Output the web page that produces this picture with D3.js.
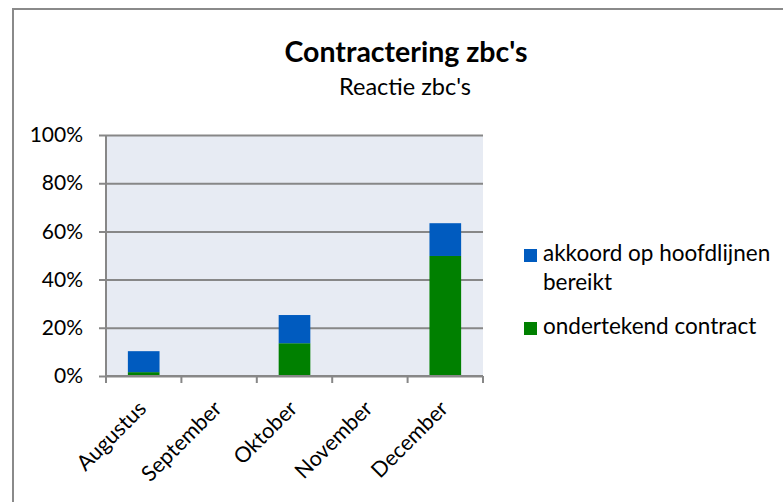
<!DOCTYPE html>
<html lang="nl">
<head>
    <meta charset="UTF-8">
    <title>Contractering zbc's</title>
    <script src="https://cdn.jsdelivr.net/npm/d3@7"></script>
    <style>
        body { margin: 0; background: #fff; }
        svg text { font-family: Lato, "Noto Sans", sans-serif; fill: #000; }
    </style>
</head>
<body>
    <div id="chart"></div>
    <script>
        // data
        const months = ["Augustus", "September", "Oktober", "November", "December"];
        const ondertekend = [1.6, 0, 13.6, 0, 49.8];   // groen
        const akkoord = [8.7, 0, 11.7, 0, 13.6];       // blauw, bovenop
        const yTicks = [0, 20, 40, 60, 80, 100];
        const colors = ["#008000", "#005BBF"];

        const W = 783, H = 502;
        const plot = { left: 106, right: 483, top: 135, bottom: 376 };

        const svg = d3.select("#chart").append("svg")
            .attr("width", W).attr("height", H);

        // outer frame
        svg.append("rect")
            .attr("x", 13).attr("y", 9)
            .attr("width", W + 10).attr("height", H + 10)
            .attr("fill", "#fff").attr("stroke", "#8a8a8a").attr("stroke-width", 2);

        // titles
        svg.append("text").attr("x", 406).attr("y", 62)
            .attr("text-anchor", "middle").attr("font-size", 28.5).attr("font-weight", "bold")
            .text("Contractering zbc's");
        svg.append("text").attr("x", 405).attr("y", 95)
            .attr("text-anchor", "middle").attr("font-size", 23.5)
            .text("Reactie zbc's");

        const x = d3.scaleBand().domain(months)
            .range([plot.left, plot.right])
            .paddingInner(0.58).paddingOuter(0.29);
        const y = d3.scaleLinear().domain([0, 100]).range([plot.bottom, plot.top]);

        // plot background
        svg.append("rect")
            .attr("x", plot.left).attr("y", plot.top)
            .attr("width", plot.right - plot.left).attr("height", plot.bottom - plot.top)
            .attr("fill", "#E7EBF3");

        // grid lines + y axis
        const yAxis = svg.append("g")
            .attr("transform", "translate(" + plot.left + ",0)")
            .call(d3.axisLeft(y).tickValues(yTicks)
                .tickSize(-(plot.right - plot.left))
                .tickFormat(d => d + "%"));
        yAxis.select(".domain").remove();
        yAxis.selectAll(".tick line")
            .attr("x1", -7)
            .attr("stroke", "#878787").attr("stroke-width", 2);
        yAxis.selectAll(".tick text").attr("font-size", 21).attr("x", -23);

        // stacked bars
        const stacked = d3.stack().keys([0, 1])
            .value((d, k) => k === 0 ? ondertekend[d] : akkoord[d])(d3.range(months.length));

        svg.append("g").selectAll("g")
            .data(stacked)
            .join("g")
            .attr("fill", (d, i) => colors[i])
            .selectAll("rect")
            .data(d => d)
            .join("rect")
            .attr("x", d => x(months[d.data]))
            .attr("width", x.bandwidth())
            .attr("y", d => y(d[1]))
            .attr("height", d => y(d[0]) - y(d[1]));

        // y axis line
        svg.append("line")
            .attr("x1", plot.left).attr("x2", plot.left)
            .attr("y1", plot.top).attr("y2", plot.bottom)
            .attr("stroke", "#878787").attr("stroke-width", 2);

        // x axis with ticks at category boundaries
        const step = x.step();
        const bounds = d3.range(months.length + 1).map(i => plot.left + i * step);
        svg.append("line")
            .attr("x1", plot.left).attr("x2", plot.right)
            .attr("y1", plot.bottom).attr("y2", plot.bottom)
            .attr("stroke", "#878787").attr("stroke-width", 2);
        svg.append("g").selectAll("line")
            .data(bounds)
            .join("line")
            .attr("x1", d => d).attr("x2", d => d)
            .attr("y1", plot.bottom).attr("y2", plot.bottom + 7)
            .attr("stroke", "#878787").attr("stroke-width", 2);

        // rotated category labels
        svg.append("g").selectAll("text")
            .data(months)
            .join("text")
            .attr("transform", d => "translate(" + (x(d) + x.bandwidth() / 2 - 7) + "," + 399 + ") rotate(-45)")
            .attr("text-anchor", "end")
            .attr("dy", "0.72em")
            .attr("font-size", 21.5)
            .text(d => d);

        // legend
        const legend = svg.append("g");
        const items = [
            { color: colors[1], lines: ["akkoord op hoofdlijnen", "bereikt"], y: 249 },
            { color: colors[0], lines: ["ondertekend contract"], y: 322 }
        ];
        items.forEach(it => {
            legend.append("rect")
                .attr("x", 524).attr("y", it.y)
                .attr("width", 13).attr("height", 13)
                .attr("fill", it.color);
            const t = legend.append("text")
                .attr("x", 543).attr("y", it.y + 12)
                .attr("font-size", 22.5);
            it.lines.forEach((l, i) => {
                t.append("tspan").attr("x", 543).attr("dy", i === 0 ? 0 : 29).text(l);
            });
        });
    </script>
</body>
</html>
